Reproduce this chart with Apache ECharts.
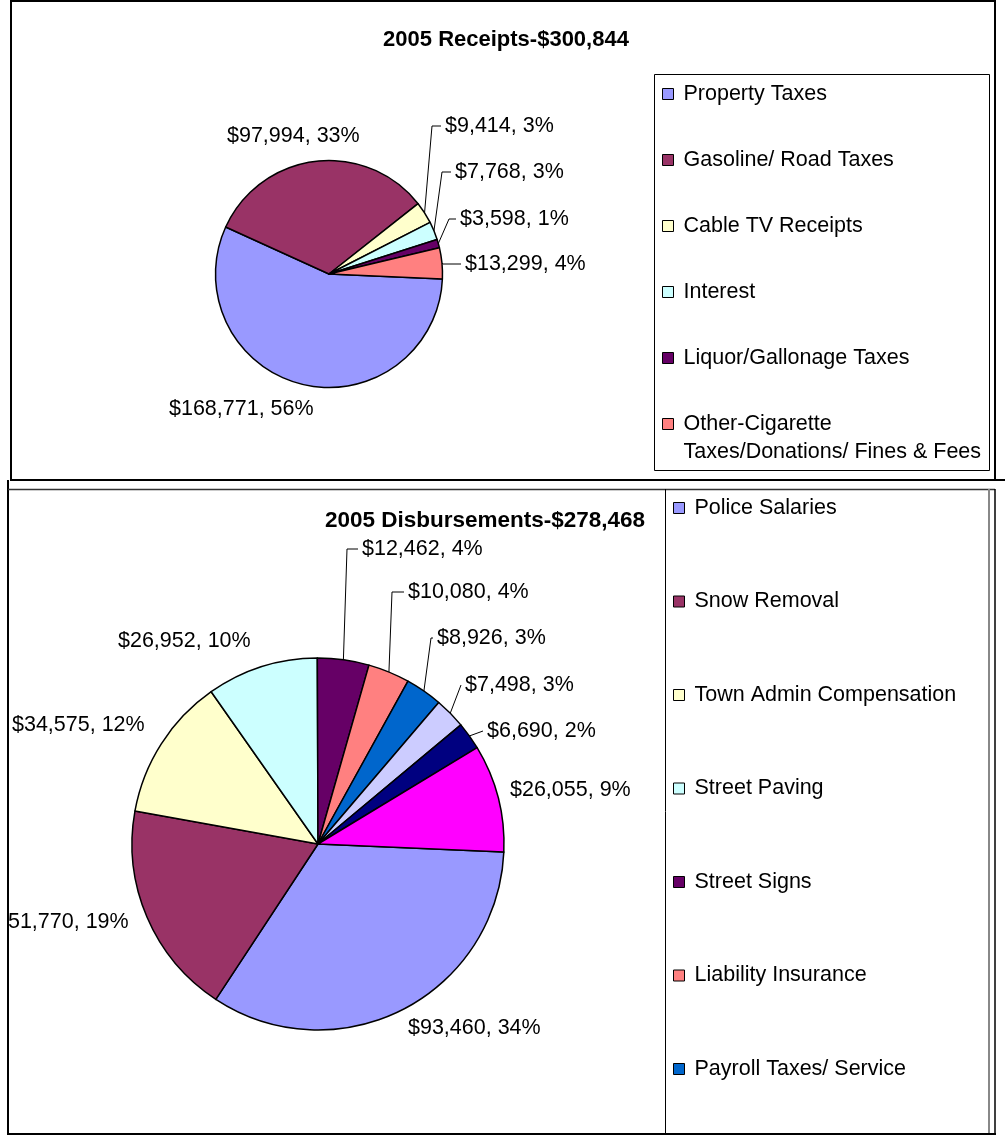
<!DOCTYPE html>
<html><head><meta charset="utf-8">
<script src="https://cdn.jsdelivr.net/npm/echarts@6/dist/echarts.min.js"></script>
<style>html,body{margin:0;padding:0;background:#fff}#c{width:1005px;height:1138px}</style>
</head><body><div id="c"></div>
<script>
// ---- data ----
const receiptTitle = '2005 Receipts-$300,844';
const receiptNames = ['Property Taxes', 'Gasoline/ Road Taxes', 'Cable TV Receipts', 'Interest', 'Liquor/Gallonage Taxes', 'Other-Cigarette\nTaxes/Donations/ Fines & Fees'];
const receiptValues = [168771, 97994, 9414, 7768, 3598, 13299];
const receiptColors = ['#9999FF', '#993366', '#FFFFCC', '#CCFFFF', '#660066', '#FF8080'];

const disbTitle = '2005 Disbursements-$278,468';
const disbNames = ['Police Salaries', 'Snow Removal', 'Town Admin Compensation', 'Street Paving', 'Street Signs', 'Liability Insurance', 'Payroll Taxes/ Service', 'Item 8', 'Item 9', 'Item 10'];
const disbValues = [93460, 51770, 34575, 26952, 12462, 10080, 8926, 7498, 6690, 26055];
const disbColors = ['#9999FF', '#993366', '#FFFFCC', '#CCFFFF', '#660066', '#FF8080', '#0066CC', '#CCCCFF', '#000080', '#FF00FF'];
const disbLegendCount = 7;

// ---- label layout (x, y of label, elbow x of leader or null) ----
const receiptLabelSpots = [[169, 409, null], [227, 136, null], [445, 126, 432], [455, 172, 442], [460, 219, 449], [465, 264, 443]];
const disbLabelSpots = [[408, 1028, null], [-4, 922, null], [12, 725, null], [118, 641, null], [362, 549, 347], [408, 592, 392], [437, 638, 431], [465, 685, 461], [487, 731, 483], [510, 790, null]];

const FONT = "'Liberation Sans', Arial, sans-serif";
const FS = 21.5;

function money(v) { return '$' + String(v).replace(/\B(?=(\d{3})+(?!\d))/g, ','); }
function fmt(p) { return money(p.value) + ', ' + Math.round(p.percent) + '%'; }

function makeLayout(spots) {
  return function (params) {
    const s = spots[params.dataIndex];
    const out = { x: s[0], y: s[1], align: 'left', verticalAlign: 'middle' };
    if (s[2] != null && params.labelLinePoints) {
      const p0 = params.labelLinePoints[0];
      out.labelLinePoints = [p0, [s[2], s[1]], [s[0] - 4, s[1]]];
    }
    return out;
  };
}

function makeData(names, values, colors, spots) {
  return values.map((v, i) => ({
    name: names[i], value: v,
    itemStyle: { color: colors[i] },
    labelLine: { show: spots[i][2] != null }
  }));
}

function pieSeries(names, values, colors, spots, center, radius) {
  return {
    type: 'pie', center: center, radius: radius, startAngle: -2.5, clockwise: true,
    avoidLabelOverlap: false, minShowLabelAngle: 0,
    label: { show: true, position: 'outside', formatter: fmt, fontSize: FS, fontFamily: FONT, color: '#000' },
    labelLine: { show: true, length: 10, length2: 10, lineStyle: { color: '#000', width: 1 } },
    itemStyle: { borderColor: '#000', borderWidth: 1.5 },
    emphasis: { disabled: true },
    labelLayout: makeLayout(spots),
    data: makeData(names, values, colors, spots)
  };
}

function legendCfg(names, left, top, gap, formatter) {
  const cfg = {
    data: names, orient: 'vertical', left: left, top: top, padding: 0,
    itemWidth: 11, itemHeight: 11, itemGap: gap, icon: 'rect', selectedMode: false,
    itemStyle: { borderColor: '#000', borderWidth: 1 },
    textStyle: { fontSize: FS, lineHeight: 28, fontFamily: FONT, color: '#000', padding: [0, 0, 0, 5] }
  };
  if (formatter) cfg.formatter = formatter;
  return cfg;
}

function ln(x1, y1, x2, y2, w, c, z) {
  return { type: 'line', z: z || 50, shape: { x1, y1, x2, y2 }, style: { stroke: c || '#000', lineWidth: w } };
}

const chart = echarts.init(document.getElementById('c'), null, { renderer: 'canvas' });
chart.setOption({
  animation: false,
  backgroundColor: '#fff',
  title: [
    { text: receiptTitle, left: 506, top: 40, padding: 0, textAlign: 'center', textVerticalAlign: 'middle',
      textStyle: { fontSize: 22, fontWeight: 'bold', fontFamily: FONT, color: '#000' } },
    { text: disbTitle, left: 485, top: 521, padding: 0, textAlign: 'center', textVerticalAlign: 'middle',
      textStyle: { fontSize: 22.5, fontWeight: 'bold', fontFamily: FONT, color: '#000' } }
  ],
  legend: [
    legendCfg(receiptNames.slice(0, 5), 662, 80, 38),
    legendCfg(receiptNames.slice(5), 662, 382, 38, function (name) { return '\n' + name; }),
    legendCfg(disbNames.slice(0, disbLegendCount), 673, 494, 65.5)
  ],
  graphic: [
    { type: 'rect', z: 50, shape: { x: 11, y: 1, width: 984, height: 479 }, style: { fill: 'none', stroke: '#000', lineWidth: 2 } },
    { type: 'rect', z: 50, shape: { x: 654.5, y: 74.5, width: 335, height: 396 }, style: { fill: 'none', stroke: '#000', lineWidth: 1 } },
    { type: 'rect', z: 100, shape: { x: 0, y: 489, width: 8, height: 649 }, style: { fill: '#fff', stroke: 'none' } },
    ln(995, 480, 1005, 480, 2, '#000', 110),
    ln(8, 480, 8, 1135, 2, '#000', 110),
    ln(8, 489.5, 995, 489.5, 1.5, '#333', 110),
    ln(989, 489, 989, 1134, 2, '#888', 110),
    ln(995, 489, 995, 1134, 1.5, '#000', 110),
    ln(8, 1134, 996, 1134, 2, '#000', 110),
    ln(665.5, 489, 665.5, 1134, 1, '#000', 110)
  ],
  series: [
    pieSeries(receiptNames, receiptValues, receiptColors, receiptLabelSpots, [329, 274], 113.5),
    pieSeries(disbNames, disbValues, disbColors, disbLabelSpots, [318, 844], 186)
  ]
});
</script></body></html>
